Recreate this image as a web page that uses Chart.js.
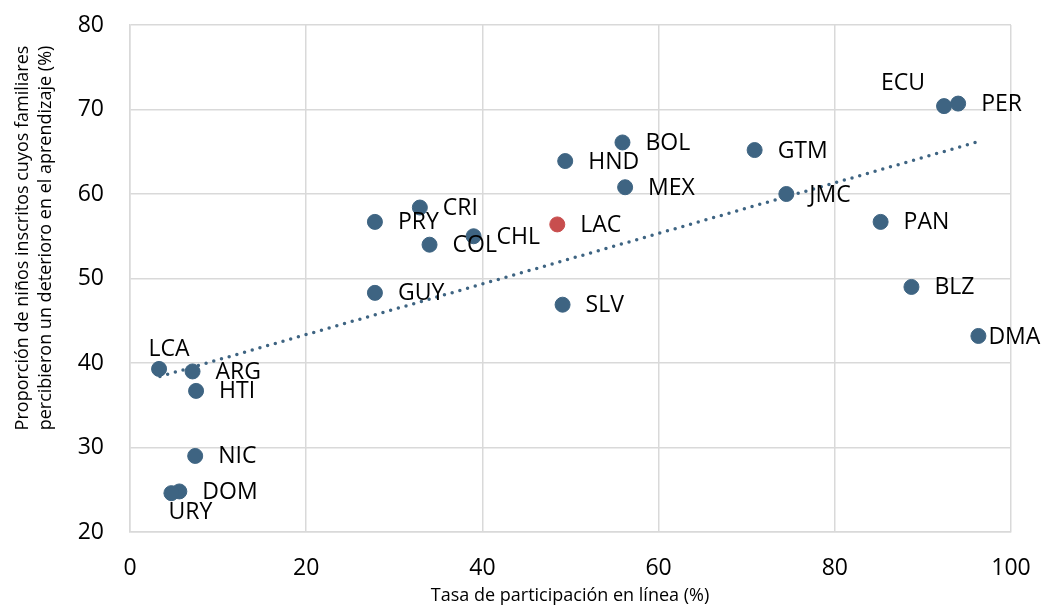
<!DOCTYPE html>
<html>
<head>
<meta charset="utf-8">
<script src="https://cdn.jsdelivr.net/npm/chart.js@4/dist/chart.umd.min.js"></script>
<style>
  html, body { margin: 0; padding: 0; background: #fff; }
  #wrap { width: 1042px; height: 606px; }
</style>
</head>
<body>
<div id="wrap"><canvas id="scatterChart" width="1042" height="606"></canvas></div>
<script>
// data
const countries = ['LCA', 'ARG', 'HTI', 'NIC', 'DOM', 'URY', 'GUY', 'PRY', 'CRI', 'COL', 'CHL',
  'SLV', 'HND', 'BOL', 'MEX', 'GTM', 'JMC', 'PAN', 'BLZ', 'DMA', 'ECU', 'PER'];
const onlineRate = [3.3, 7.1, 7.5, 7.4, 5.6, 4.7, 27.8, 27.8, 32.9, 34.0, 39.0,
  49.1, 49.4, 55.9, 56.2, 70.9, 74.5, 85.2, 88.7, 96.3, 92.4, 94.0];
const perceivedDecline = [39.3, 39.0, 36.7, 29.0, 24.8, 24.6, 48.3, 56.7, 58.4, 54.0, 55.0,
  46.9, 63.9, 66.1, 60.8, 65.2, 60.0, 56.7, 49.0, 43.2, 70.4, 70.7];

const regionNames = ['LAC'];
const regionRate = [48.5];
const regionDecline = [56.4];

const trendRate = [3.4, 96.3];
const trendDecline = [38.4, 66.2];

const xTicks = [0, 20, 40, 60, 80, 100];
const yTicks = [20, 30, 40, 50, 60, 70, 80];

const xTitle = 'Tasa de participación en línea (%)';
const yTitle = ['Proporción de niños inscritos cuyos familiares', 'percibieron un deterioro en el aprendizaje (%)'];

const blue = '#3E6482';
const red = '#C84E4E';
const gridGrey = '#D9D9D9';
const fontFamily = '"Open Sans", "DejaVu Sans", sans-serif';

// where each label sits relative to its dot (px)
const defaultLabelPos = { align: 'left', dx: 23, dy: 1 };
const labelPos = {
  LCA: { align: 'center', dx: 10, dy: -19 },
  URY: { align: 'center', dx: 19, dy: 19 },
  ECU: { align: 'center', dx: -41, dy: -23 },
  DMA: { align: 'left', dx: 10, dy: 1 },
};

const toPoints = (xs, ys) => xs.map((x, i) => ({ x: x, y: ys[i] }));

const pointLabels = {
  id: 'pointLabels',
  afterDatasetsDraw(chart) {
    const ctx = chart.ctx;
    ctx.save();
    ctx.font = '23px ' + fontFamily;
    ctx.fillStyle = '#000';
    ctx.textBaseline = 'middle';
    const drawSet = (index, names) => {
      chart.getDatasetMeta(index).data.forEach((pt, i) => {
        const pos = labelPos[names[i]] || defaultLabelPos;
        ctx.textAlign = pos.align;
        ctx.fillText(names[i], pt.x + pos.dx, pt.y + pos.dy);
      });
    };
    drawSet(1, countries);
    drawSet(2, regionNames);
    ctx.restore();
  }
};

const axisTitles = {
  id: 'axisTitles',
  afterDraw(chart) {
    const ctx = chart.ctx;
    ctx.save();
    ctx.font = '18px ' + fontFamily;
    ctx.fillStyle = '#000';
    ctx.textAlign = 'center';
    ctx.textBaseline = 'middle';
    ctx.fillText(xTitle, 570, 596);
    ctx.translate(0, 238);
    ctx.rotate(-Math.PI / 2);
    yTitle.forEach((line, i) => ctx.fillText(line, 0, 23 + i * 23));
    ctx.restore();
  }
};

const scatterChart = new Chart(document.getElementById('scatterChart').getContext('2d'), {
  type: 'scatter',
  data: {
    datasets: [
      {
        label: 'Tendencia',
        type: 'line',
        data: toPoints(trendRate, trendDecline),
        borderColor: blue,
        borderWidth: 3.5,
        borderDash: [0, 8],
        borderCapStyle: 'round',
        pointRadius: 0,
        fill: false,
        order: 3,
      },
      {
        label: 'Países',
        data: toPoints(onlineRate, perceivedDecline),
        backgroundColor: blue,
        borderColor: blue,
        pointRadius: 7.5,
        pointHoverRadius: 7.5,
        order: 2,
      },
      {
        label: 'LAC',
        data: toPoints(regionRate, regionDecline),
        backgroundColor: red,
        borderColor: red,
        pointRadius: 7.5,
        pointHoverRadius: 7.5,
        order: 1,
      }
    ]
  },
  options: {
    responsive: false,
    animation: false,
    layout: { padding: { top: 25, right: 31, left: 0, bottom: 0 } },
    plugins: {
      legend: { display: false },
      tooltip: { enabled: false },
    },
    scales: {
      x: {
        type: 'linear',
        min: 0,
        max: 100,
        afterBuildTicks: (scale) => { scale.ticks = xTicks.map(v => ({ value: v })); },
        afterFit: (scale) => {
          scale.height = 74;
          scale.paddingLeft = 0;
          scale.paddingRight = 0;
        },
        ticks: { color: '#000', font: { size: 23, family: fontFamily }, padding: 23 },
        grid: { color: gridGrey, lineWidth: 1.5, drawTicks: false },
        border: { color: gridGrey, width: 1.5 },
      },
      y: {
        min: 20,
        max: 80,
        afterBuildTicks: (scale) => { scale.ticks = yTicks.map(v => ({ value: v })); },
        afterFit: (scale) => {
          scale.width = 130;
          scale.paddingTop = 0;
          scale.paddingBottom = 0;
        },
        ticks: { color: '#000', font: { size: 23, family: fontFamily }, padding: 26 },
        grid: { color: gridGrey, lineWidth: 1.5, drawTicks: false },
        border: { color: gridGrey, width: 1.5 },
      }
    }
  },
  plugins: [pointLabels, axisTitles]
});
</script>
</body>
</html>
